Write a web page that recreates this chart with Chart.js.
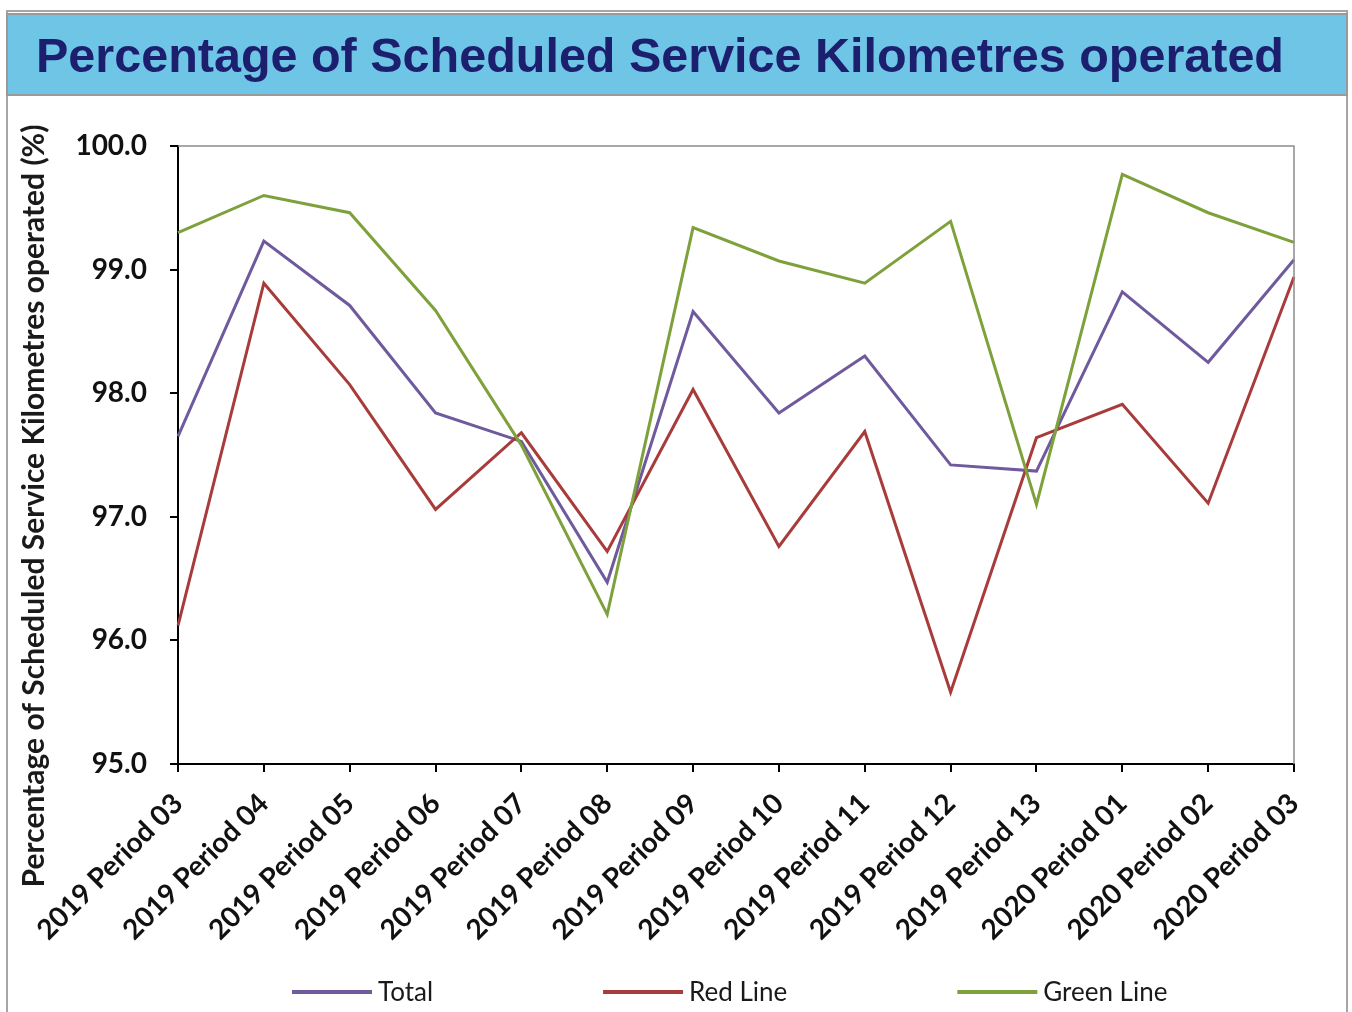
<!DOCTYPE html>
<html><head><meta charset="utf-8">
<script src="https://cdn.jsdelivr.net/npm/chart.js@4/dist/chart.umd.min.js"></script>
<style>html,body{margin:0;padding:0;background:#fff;}</style>
</head><body>
<canvas id="c" width="1352" height="1012"></canvas>
<script>
const chartTitle = "Percentage of Scheduled Service Kilometres operated";
const yAxisTitle = "Percentage of Scheduled Service Kilometres operated (%)";
const categories = ["2019 Period 03","2019 Period 04","2019 Period 05","2019 Period 06","2019 Period 07","2019 Period 08","2019 Period 09","2019 Period 10","2019 Period 11","2019 Period 12","2019 Period 13","2020 Period 01","2020 Period 02","2020 Period 03"];
const totalValues = [97.65,99.23,98.71,97.84,97.61,96.47,98.66,97.84,98.30,97.42,97.37,98.82,98.25,99.08];
const redValues   = [96.12,98.89,98.07,97.06,97.68,96.72,98.03,96.76,97.69,95.58,97.64,97.91,97.11,98.94];
const greenValues = [99.30,99.60,99.46,98.67,97.58,96.21,99.34,99.07,98.89,99.39,97.10,99.77,99.46,99.22];
const yMin = 95, yMax = 100, yStep = 1;

const framePlugin = {
  id: 'frame',
  beforeDraw(chart) {
    const ctx = chart.ctx;
    ctx.save();
    ctx.fillStyle = '#fff';
    ctx.fillRect(0, 0, chart.width, chart.height);
    ctx.strokeStyle = '#a6a6a6';
    ctx.lineWidth = 2;
    ctx.beginPath();
    ctx.moveTo(7, 1012); ctx.lineTo(7, 11); ctx.lineTo(1347, 11); ctx.lineTo(1347, 1012);
    ctx.stroke();
    ctx.fillStyle = '#6ec5e6';
    ctx.fillRect(8, 15, 1338, 80);
    ctx.strokeStyle = '#9a9a9a';
    ctx.lineWidth = 2;
    ctx.strokeRect(7, 14, 1340, 81);
    ctx.fillStyle = '#1b1f6e';
    ctx.font = 'bold 48.5px "Liberation Sans", Arial, sans-serif';
    ctx.textBaseline = 'alphabetic';
    ctx.textAlign = 'center';
    ctx.fillText(chartTitle, 660, 72);
    ctx.restore();
  },
  afterDraw(chart) {
    const ctx = chart.ctx;
    const a = chart.chartArea;
    ctx.save();
    ctx.strokeStyle = '#8c8c8c';
    ctx.lineWidth = 1.5;
    ctx.beginPath();
    ctx.moveTo(a.left, a.top); ctx.lineTo(a.right, a.top); ctx.lineTo(a.right, a.bottom);
    ctx.stroke();
    ctx.translate(34, 506);
    ctx.rotate(-Math.PI / 2);
    ctx.fillStyle = '#1a1a1a';
    ctx.font = 'bold 30px Lato, sans-serif';
    ctx.textAlign = 'center';
    ctx.textBaseline = 'middle';
    ctx.fillText(yAxisTitle, 0, 0);
    ctx.restore();
    ctx.save();
    ctx.font = '26px Lato, sans-serif';
    const sample = 80, gapText = 6, gapItem = 170;
    const items = chart.data.datasets.map(d => ({text: d.label, color: d.borderColor, w: sample + gapText + ctx.measureText(d.label).width}));
    let x = 292;
    const y = 992;
    items.forEach(it => {
      ctx.strokeStyle = it.color;
      ctx.lineWidth = 4;
      ctx.beginPath(); ctx.moveTo(x, y); ctx.lineTo(x + sample, y); ctx.stroke();
      ctx.fillStyle = '#1a1a1a';
      ctx.textBaseline = 'middle';
      ctx.textAlign = 'left';
      ctx.fillText(it.text, x + sample + gapText, y + 1);
      x += it.w + gapItem;
    });
    ctx.restore();
  }
};

new Chart(document.getElementById('c'), {
  type: 'line',
  data: {
    labels: categories,
    datasets: [
      {label: 'Total', data: totalValues, borderColor: '#6f5a9e', order: 2},
      {label: 'Red Line', data: redValues, borderColor: '#a83c3b', order: 1},
      {label: 'Green Line', data: greenValues, borderColor: '#7ea13c', order: 0}
    ]
  },
  options: {
    responsive: false,
    animation: false,
    devicePixelRatio: 1,
    layout: {padding: {top: 146, right: 58, left: 0, bottom: 0}},
    elements: {line: {borderWidth: 3, tension: 0, fill: false}, point: {radius: 0}},
    plugins: {legend: {display: false}, title: {display: false}, tooltip: {enabled: false}},
    scales: {
      x: {
        offset: false,
        grid: {display: true, drawOnChartArea: false, drawTicks: true, tickLength: 8, color: '#000', lineWidth: 2},
        border: {display: true, color: '#000', width: 2},
        ticks: {autoSkip: false, maxRotation: 45, minRotation: 45, color: '#111', padding: 15,
                font: {family: 'Lato', weight: 'bold', size: 28}},
        afterFit(s) { s.height = 248; s.paddingLeft = 0; s.paddingRight = 0; }
      },
      y: {
        min: yMin, max: yMax,
        grid: {display: true, drawOnChartArea: false, drawTicks: true, tickLength: 8, color: '#000', lineWidth: 2},
        border: {display: true, color: '#000', width: 2},
        ticks: {stepSize: yStep, color: '#111', padding: 23, callback: v => Number(v).toFixed(1),
                font: {family: 'Lato', weight: 'bold', size: 28}},
        afterFit(s) { s.width = 178; s.paddingTop = 0; s.paddingBottom = 0; }
      }
    }
  },
  plugins: [framePlugin]
});
</script>
</body></html>
